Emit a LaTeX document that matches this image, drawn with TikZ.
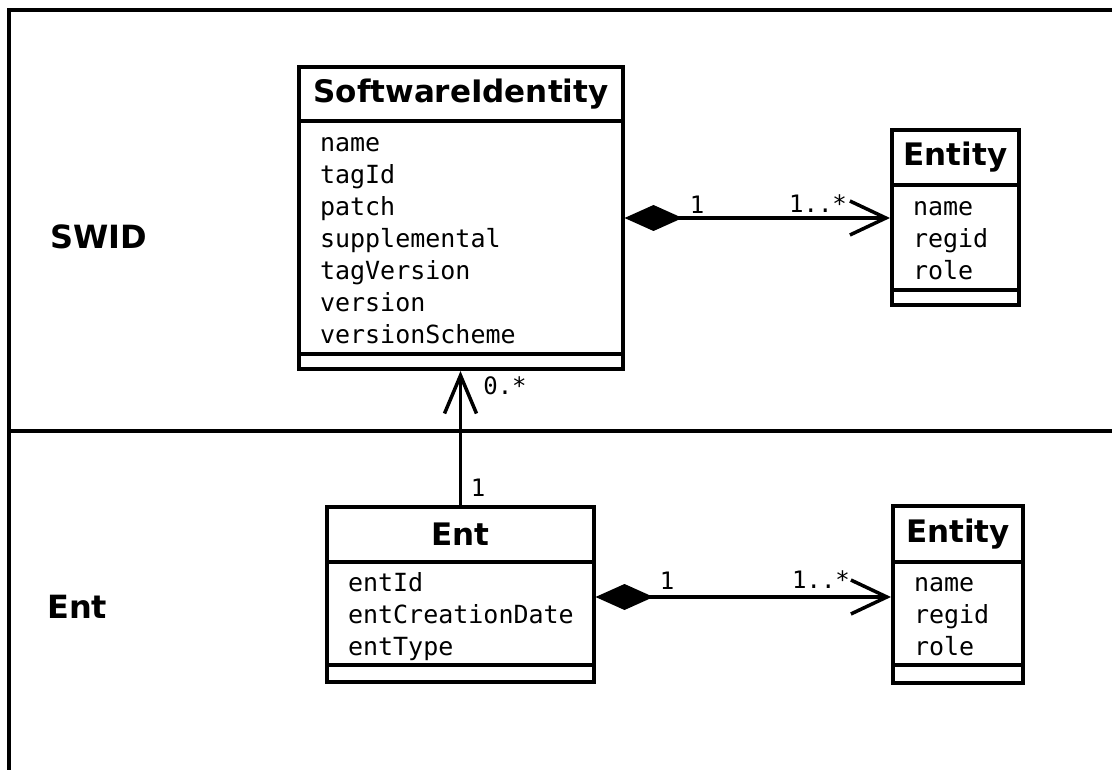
\documentclass[tikz,border=0pt]{standalone}
\usepackage{fontspec}
\setmainfont{DejaVu Sans}
\setmonofont{DejaVu Sans Mono}
\usetikzlibrary{arrows.meta}
% line prop for attribute rows: fixed height and depth per row
\newcommand{\rowprop}{\rule[-5.6pt]{0pt}{32pt}}
\begin{document}
\begin{tikzpicture}[x=1pt,y=-1pt,
  clsbox/.style={draw,line width=3.5pt,inner sep=0pt,outer sep=0pt,anchor=north west},
  clstitle/.style={clsbox,font=\bfseries\fontsize{31}{36}\selectfont},
  clsattr/.style={clsbox,align=left,inner xsep=21pt,inner ysep=0pt,
    font=\ttfamily\fontsize{25}{32}\selectfont},
  mult/.style={inner sep=0pt,font=\ttfamily\fontsize{24}{28}\selectfont},
  section/.style={inner sep=0pt,anchor=west,font=\bfseries\fontsize{32}{38}\selectfont},
  compose/.style={line width=3.5pt,
    {Diamond[length=58pt,width=26pt]}-{Straight Barb[length=36pt,width=34pt]}},
  navig/.style={line width=3.5pt,-{Straight Barb[length=38pt,width=32pt]}}
]
\useasboundingbox (0,0) rectangle (1112,770);
\fill[white] (0,0) rectangle (1112,770);

% frame and swimlane divider
\draw[line width=4.5pt] (9,772) -- (9,10) -- (1114,10);
\draw[line width=3.5pt] (9,431) -- (1114,431);

% lane labels
\node[section] (laneswid) at (50,237) {SWID};
\node[section] (laneent) at (47,607) {Ent};

% SoftwareIdentity
\node[clstitle,minimum width=324pt,minimum height=54pt] (swT) at (299,67) {SoftwareIdentity};
\node[clsattr,text width=282pt,minimum height=233pt] (swA) at (swT.south west)
  {\rowprop name\\\rowprop tagId\\\rowprop patch\\\rowprop supplemental\\\rowprop tagVersion\\\rowprop version\\\rowprop versionScheme};
\node[clsbox,minimum width=324pt,minimum height=15pt] (swO) at (swA.south west) {};

% Entity (SWID lane)
\node[clstitle,minimum width=127pt,minimum height=55pt] (e1T) at (892,130) {Entity};
\node[clsattr,text width=85pt,minimum height=105pt] (e1A) at (e1T.south west)
  {\rowprop name\\\rowprop regid\\\rowprop role};
\node[clsbox,minimum width=127pt,minimum height=15pt] (e1O) at (e1A.south west) {};

% Ent
\node[clstitle,minimum width=267pt,minimum height=55pt] (entT) at (327,507) {Ent};
\node[clsattr,text width=225pt,minimum height=103pt] (entA) at (entT.south west)
  {\rowprop entId\\\rowprop entCreationDate\\\rowprop entType};
\node[clsbox,minimum width=267pt,minimum height=17pt] (entO) at (entA.south west) {};

% Entity (Ent lane)
\node[clstitle,minimum width=130pt,minimum height=56pt] (e2T) at (893,506) {Entity};
\node[clsattr,text width=88pt,minimum height=103pt] (e2A) at (e2T.south west)
  {\rowprop name\\\rowprop regid\\\rowprop role};
\node[clsbox,minimum width=130pt,minimum height=18pt] (e2O) at (e2A.south west) {};

% associations
\draw[compose] ([xshift=1.5pt,yshift=19.5pt]swA.east) -- ([xshift=-2pt,yshift=19.5pt]swA.east -| e1A.west);
\draw[compose] ([xshift=1.5pt,yshift=16.5pt]entA.east) -- ([xshift=-2pt,yshift=16.5pt]entA.east -| e2A.west);
\draw[navig] (entT.north) -- ([yshift=-2pt]entT.north |- swO.south);

% multiplicities
\node[mult] (m1) at (697,205) {1};
\node[mult] (m2) at (818,204) {1..*};
\node[mult] (m3) at (505,386) {0.*};
\node[mult] (m4) at (478,488) {1};
\node[mult] (m5) at (667,581) {1};
\node[mult] (m6) at (821,580) {1..*};
\end{tikzpicture}
\end{document}
